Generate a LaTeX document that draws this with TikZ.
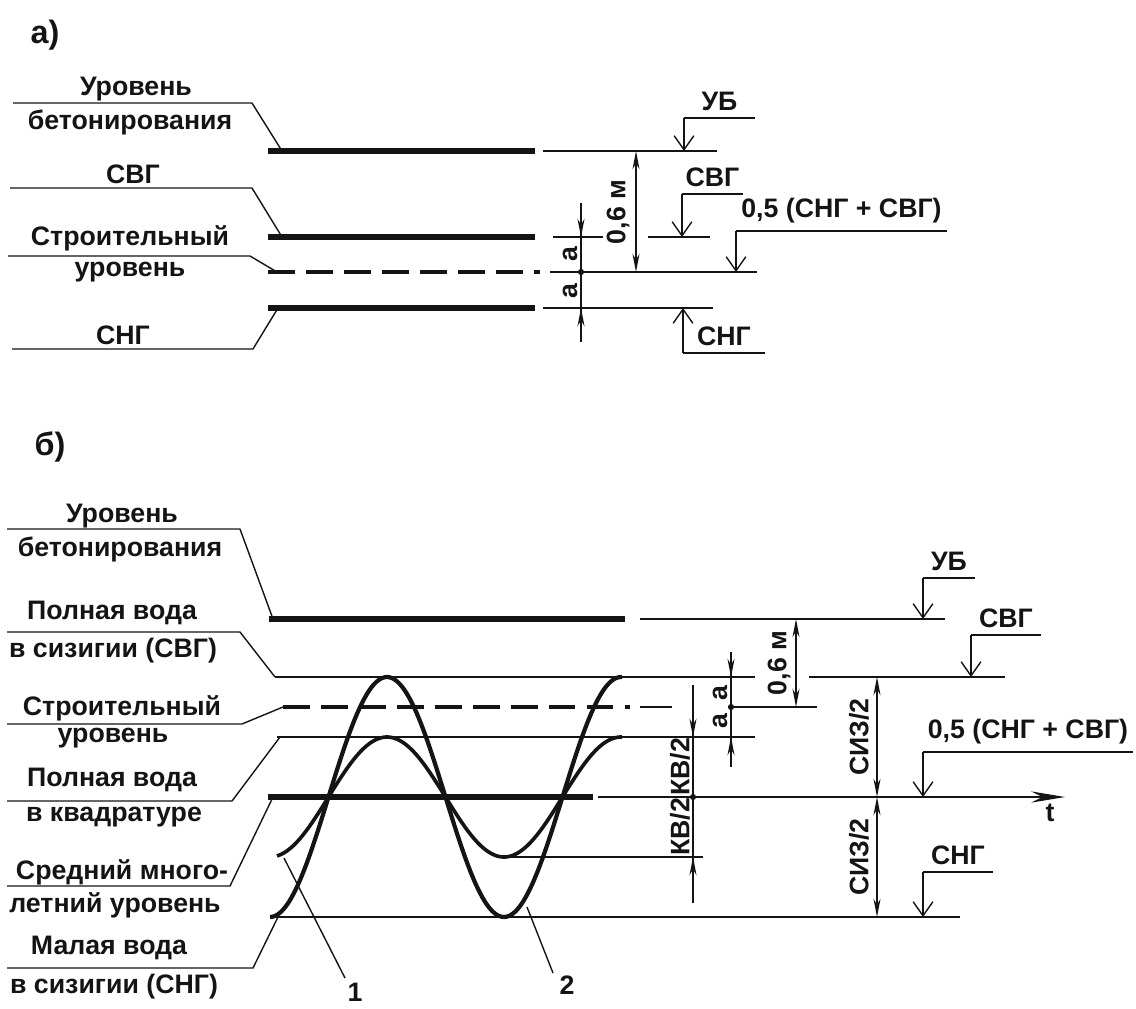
\documentclass[tikz,border=0pt]{standalone}
\usepackage{fontspec}
\setmainfont{Liberation Sans}
\usetikzlibrary{arrows.meta}

\begin{document}
\begin{tikzpicture}[
    x=0.025cm,
    y=-0.025cm,
    line join=round,
    every node/.style={font=\bfseries\fontsize{19}{22}\selectfont,inner sep=0pt},
]
\definecolor{inkDark}{HTML}{141414}

\tikzset{
    thinline/.style={draw=inkDark,line width=1.0pt},
    levelbold/.style={draw=inkDark,line width=3.6pt},
    constrdash/.style={draw=inkDark,line width=3.0pt,dash pattern=on 19pt off 8pt},
    tidecurve/.style={draw=inkDark,line width=3.0pt},
    dimline/.style={draw=inkDark,line width=1.0pt,{Stealth[length=13pt,width=5pt]}-{Stealth[length=13pt,width=5pt]}},
    dimtip/.style={draw=inkDark,line width=1.0pt,-{Stealth[length=13pt,width=5pt]}},
    markline/.style={draw=inkDark,line width=1.0pt,-{Straight Barb[length=10pt,width=14pt]}},
    sidelabel/.style={text=inkDark},
    vertlabel/.style={text=inkDark,rotate=90},
    partlabel/.style={text=inkDark,font=\bfseries\fontsize{23}{26}\selectfont},
}

\newcommand{\leaderline}[5]{
    \draw[thinline] (#1,#2) -- (#3,#2) -- (#4,#5);
}

% name, x, level, shelf, shelf length, text
\newcommand{\levelmark}[6]{
    \draw[markline] (#2,#4) -- (#2,#3);
    \draw[thinline] (#2,#4) -- ++(#5,0) node[sidelabel,midway,above=5pt] (#1) {#6};
}

\newcommand{\dimdot}[2]{
    \fill[inkDark] (#1,#2) circle (2.2pt);
}

\useasboundingbox (0,0) rectangle (1136,1008);

% ---- a) ----
\node[partlabel] (partA) at (45,35) {а)};

\leaderline{13}{103}{252}{282}{151}
\node[sidelabel] (aUBtop) at (136,89) {Уровень};
\node[sidelabel] (aUBbot) at (130,122) {бетонирования};
\leaderline{10}{188}{252}{282}{237}
\node[sidelabel] (aSVG) at (133,174) {СВГ};
\leaderline{8}{256}{250}{277}{272}
\node[sidelabel] (aCStop) at (130,238) {Строительный};
\node[sidelabel] (aCSbot) at (130,272) {уровень};
\leaderline{12}{349}{253}{278}{308}
\node[sidelabel] (aSNG) at (123,335) {СНГ};

\draw[levelbold] (268,151) -- (535,151);
\draw[levelbold] (268,237) -- (535,237);
\draw[constrdash] (268,272) -- (540,272);
\draw[levelbold] (268,308) -- (535,308);

\draw[thinline] (543,151) -- (717,151);
\draw[thinline] (553,237) -- (603,237);
\draw[thinline] (648,237) -- (710,237);
\draw[thinline] (550,272) -- (757,272);
\draw[thinline] (543,308) -- (713,308);

\levelmark{aMarkUB}{684}{151}{118}{71}{УБ}
\levelmark{aMarkSVG}{682}{237}{194}{61}{СВГ}
\levelmark{aMarkMid}{736}{272}{231}{211}{0,5 (СНГ + СВГ)}
\levelmark{aMarkSNG}{683}{308}{353}{82}{СНГ}

\draw[dimline] (636,151) -- (636,272);
\node[vertlabel] (aDim06) at (618,212) {0,6 м};
\draw[thinline] (581,203) -- (581,342);
\draw[dimtip] (581,203) -- (581,237);
\draw[dimtip] (581,342) -- (581,308);
\dimdot{581}{272}
\node[vertlabel] (aDimA1) at (570,254) {а};
\node[vertlabel] (aDimA2) at (570,291) {а};

% ---- b) ----
\node[partlabel] (partB) at (50,447) {б)};

\leaderline{7}{529}{240}{273}{619}
\node[sidelabel] (bUBtop) at (122,516) {Уровень};
\node[sidelabel] (bUBbot) at (120,549) {бетонирования};
\leaderline{7}{632}{240}{275}{677}
\node[sidelabel] (bSVGtop) at (112,613) {Полная вода};
\node[sidelabel] (bSVGbot) at (113,651) {в сизигии (СВГ)};
\leaderline{7}{724}{242}{283}{707}
\node[sidelabel] (bCStop) at (122,708) {Строительный};
\node[sidelabel] (bCSbot) at (113,738) {уровень};
\leaderline{7}{801}{232}{280}{737}
\node[sidelabel] (bKVtop) at (112,780) {Полная вода};
\node[sidelabel] (bKVbot) at (114,817) {в квадратуре};
\leaderline{7}{886}{230}{273}{797}
\node[sidelabel] (bMeantop) at (122,872) {Средний много-};
\node[sidelabel] (bMeanbot) at (115,905) {летний уровень};
\leaderline{7}{968}{253}{278}{917}
\node[sidelabel] (bSNGtop) at (109,948) {Малая вода};
\node[sidelabel] (bSNGbot) at (114,987) {в сизигии (СНГ)};

\draw[levelbold] (269,619) -- (625,619);
\draw[thinline] (640,619) -- (945,619);
\draw[thinline] (275,677) -- (755,677);
\draw[thinline] (809,677) -- (1005,677);
\draw[constrdash] (283,707) -- (630,707);
\draw[thinline] (640,707) -- (672,707);
\draw[thinline] (731,707) -- (817,707);
\draw[thinline] (277,737) -- (755,737);
\draw[levelbold] (268,797) -- (593,797);
\draw[thinline,-{Stealth[length=24pt,width=8pt]}] (598,797) -- (1065,797);
\node[sidelabel] (tAxis) at (1050,813) {t};
\draw[thinline] (500,857) -- (703,857);
\draw[thinline] (273,917) -- (960,917);

% tide curves
\draw[tidecurve] plot[domain=270:622,samples=150] (\x,{797+120*cos((\x-270)*1.5385)});
\draw[tidecurve,line width=2.6pt] plot[domain=277:622,samples=150] (\x,{797+60*cos((\x-270)*1.5385)});

\draw[thinline] (284,858) -- (345,978);
\node[sidelabel] (curveOne) at (355,992) {1};
\draw[thinline] (527,907) -- (553,973);
\node[sidelabel] (curveTwo) at (567,985) {2};

\levelmark{bMarkUB}{923}{619}{578}{52}{УБ}
\levelmark{bMarkSVG}{971}{677}{635}{70}{СВГ}
\levelmark{bMarkMid}{923}{797}{752}{210}{0,5 (СНГ + СВГ)}
\levelmark{bMarkSNG}{923}{917}{872}{70}{СНГ}

\draw[dimline] (796,619) -- (796,707);
\node[vertlabel] (bDim06) at (779,663) {0,6 м};
\draw[thinline] (731,652) -- (731,767);
\draw[dimtip] (731,652) -- (731,677);
\draw[dimtip] (731,767) -- (731,737);
\dimdot{731}{707}
\node[vertlabel] (bDimA1) at (720,693) {а};
\node[vertlabel] (bDimA2) at (720,721) {а};
\draw[thinline] (693,685) -- (693,903);
\draw[dimtip] (693,685) -- (693,737);
\draw[dimtip] (693,903) -- (693,857);
\dimdot{693}{797}
\node[vertlabel] (bDimKV1) at (680,767) {КВ/2};
\node[vertlabel] (bDimKV2) at (680,827) {КВ/2};
\draw[dimline] (877,677) -- (877,797);
\draw[dimline] (877,797) -- (877,917);
\node[vertlabel] (bDimSIZ1) at (859,737) {СИЗ/2};
\node[vertlabel] (bDimSIZ2) at (859,857) {СИЗ/2};
\end{tikzpicture}
\end{document}
